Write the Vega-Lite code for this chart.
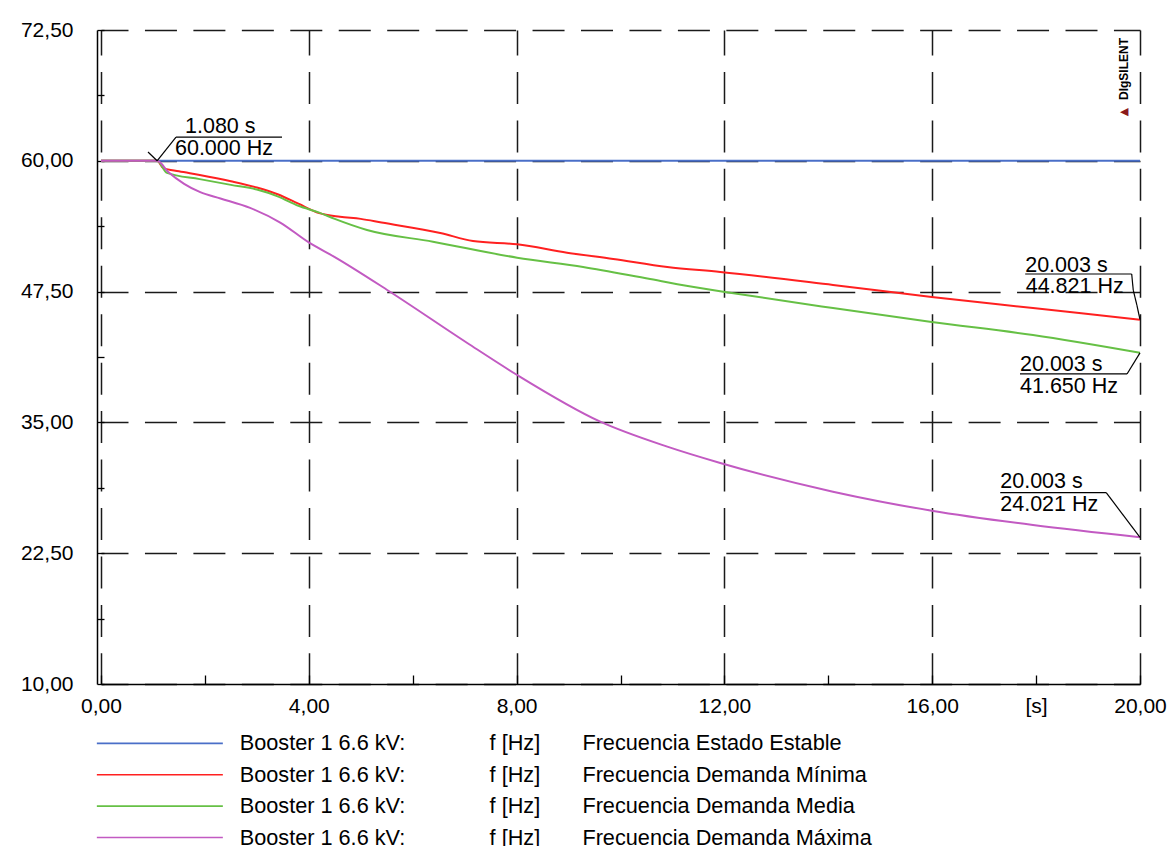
{
  "$schema": "https://vega.github.io/schema/vega-lite/v6.json",
  "width": 1039,
  "height": 654,
  "autosize": {"type": "none"},
  "padding": {"left": 101, "top": 30, "right": 27, "bottom": 162},
  "background": "white",
  "config": {"view": {"stroke": null}, "font": "Liberation Sans"},
  "datasets": {
    "series": [
      {"t": 0, "f": 60, "s": "Frecuencia Estado Estable"},
      {"t": 20, "f": 60, "s": "Frecuencia Estado Estable"},
      {"t": 0, "f": 60, "s": "Frecuencia Demanda Mínima"},
      {"t": 1.08, "f": 60, "s": "Frecuencia Demanda Mínima"},
      {"t": 1.2, "f": 59.3, "s": "Frecuencia Demanda Mínima"},
      {"t": 1.5, "f": 59.0, "s": "Frecuencia Demanda Mínima"},
      {"t": 1.9, "f": 58.65, "s": "Frecuencia Demanda Mínima"},
      {"t": 2.5, "f": 58.05, "s": "Frecuencia Demanda Mínima"},
      {"t": 3.0, "f": 57.45, "s": "Frecuencia Demanda Mínima"},
      {"t": 3.4, "f": 56.8, "s": "Frecuencia Demanda Mínima"},
      {"t": 3.8, "f": 55.9, "s": "Frecuencia Demanda Mínima"},
      {"t": 4.2, "f": 55.0, "s": "Frecuencia Demanda Mínima"},
      {"t": 4.6, "f": 54.65, "s": "Frecuencia Demanda Mínima"},
      {"t": 5.0, "f": 54.45, "s": "Frecuencia Demanda Mínima"},
      {"t": 5.4, "f": 54.1, "s": "Frecuencia Demanda Mínima"},
      {"t": 6.53, "f": 53.1, "s": "Frecuencia Demanda Mínima"},
      {"t": 7.16, "f": 52.34, "s": "Frecuencia Demanda Mínima"},
      {"t": 8.01, "f": 52.02, "s": "Frecuencia Demanda Mínima"},
      {"t": 8.97, "f": 51.22, "s": "Frecuencia Demanda Mínima"},
      {"t": 9.86, "f": 50.62, "s": "Frecuencia Demanda Mínima"},
      {"t": 10.9, "f": 49.85, "s": "Frecuencia Demanda Mínima"},
      {"t": 11.92, "f": 49.37, "s": "Frecuencia Demanda Mínima"},
      {"t": 14.09, "f": 48.13, "s": "Frecuencia Demanda Mínima"},
      {"t": 15.99, "f": 46.98, "s": "Frecuencia Demanda Mínima"},
      {"t": 17.94, "f": 45.93, "s": "Frecuencia Demanda Mínima"},
      {"t": 20.0, "f": 44.821, "s": "Frecuencia Demanda Mínima"},
      {"t": 0, "f": 60, "s": "Frecuencia Demanda Media"},
      {"t": 1.08, "f": 60, "s": "Frecuencia Demanda Media"},
      {"t": 1.27, "f": 58.85, "s": "Frecuencia Demanda Media"},
      {"t": 1.9, "f": 58.25, "s": "Frecuencia Demanda Media"},
      {"t": 2.5, "f": 57.7, "s": "Frecuencia Demanda Media"},
      {"t": 3.0, "f": 57.25, "s": "Frecuencia Demanda Media"},
      {"t": 3.4, "f": 56.6, "s": "Frecuencia Demanda Media"},
      {"t": 3.8, "f": 55.7, "s": "Frecuencia Demanda Media"},
      {"t": 4.2, "f": 55.05, "s": "Frecuencia Demanda Media"},
      {"t": 4.5, "f": 54.45, "s": "Frecuencia Demanda Media"},
      {"t": 5.12, "f": 53.39, "s": "Frecuencia Demanda Media"},
      {"t": 6.39, "f": 52.27, "s": "Frecuencia Demanda Media"},
      {"t": 8.01, "f": 50.74, "s": "Frecuencia Demanda Media"},
      {"t": 9.28, "f": 49.85, "s": "Frecuencia Demanda Media"},
      {"t": 10.57, "f": 48.7, "s": "Frecuencia Demanda Media"},
      {"t": 11.53, "f": 47.84, "s": "Frecuencia Demanda Media"},
      {"t": 12.01, "f": 47.46, "s": "Frecuencia Demanda Media"},
      {"t": 14.09, "f": 45.93, "s": "Frecuencia Demanda Media"},
      {"t": 15.99, "f": 44.6, "s": "Frecuencia Demanda Media"},
      {"t": 17.94, "f": 43.35, "s": "Frecuencia Demanda Media"},
      {"t": 20.0, "f": 41.65, "s": "Frecuencia Demanda Media"},
      {"t": 0, "f": 60, "s": "Frecuencia Demanda Máxima"},
      {"t": 1.08, "f": 60, "s": "Frecuencia Demanda Máxima"},
      {"t": 1.3, "f": 58.9, "s": "Frecuencia Demanda Máxima"},
      {"t": 1.6, "f": 57.8, "s": "Frecuencia Demanda Máxima"},
      {"t": 1.91, "f": 57.0, "s": "Frecuencia Demanda Máxima"},
      {"t": 2.3, "f": 56.4, "s": "Frecuencia Demanda Máxima"},
      {"t": 2.87, "f": 55.5, "s": "Frecuencia Demanda Máxima"},
      {"t": 3.45, "f": 54.1, "s": "Frecuencia Demanda Máxima"},
      {"t": 4.0, "f": 52.2, "s": "Frecuencia Demanda Máxima"},
      {"t": 4.5, "f": 50.8, "s": "Frecuencia Demanda Máxima"},
      {"t": 5.54, "f": 47.56, "s": "Frecuencia Demanda Máxima"},
      {"t": 7.05, "f": 42.59, "s": "Frecuencia Demanda Máxima"},
      {"t": 8.01, "f": 39.53, "s": "Frecuencia Demanda Máxima"},
      {"t": 9.61, "f": 35.07, "s": "Frecuencia Demanda Máxima"},
      {"t": 10.9, "f": 32.68, "s": "Frecuencia Demanda Máxima"},
      {"t": 11.92, "f": 31.12, "s": "Frecuencia Demanda Máxima"},
      {"t": 14.09, "f": 28.38, "s": "Frecuencia Demanda Máxima"},
      {"t": 15.99, "f": 26.56, "s": "Frecuencia Demanda Máxima"},
      {"t": 17.94, "f": 25.19, "s": "Frecuencia Demanda Máxima"},
      {"t": 20.0, "f": 24.021, "s": "Frecuencia Demanda Máxima"}
    ],
    "segments": [
      {"x": 1.08, "y": 60, "x2": 1.444, "y2": 62.27},
      {"x": 1.08, "y": 60, "x2": 0.905, "y2": 60.84},
      {"x": 1.444, "y": 62.27, "x2": 3.484, "y2": 62.27},
      {"x": 17.79, "y": 49.18, "x2": 19.84, "y2": 49.18},
      {"x": 19.84, "y": 49.18, "x2": 19.87, "y2": 47.65},
      {"x": 19.87, "y": 47.65, "x2": 19.94, "y2": 46.21},
      {"x": 19.94, "y": 46.21, "x2": 20.0, "y2": 44.821},
      {"x": 17.69, "y": 39.63, "x2": 19.75, "y2": 39.63},
      {"x": 19.75, "y": 39.63, "x2": 20.0, "y2": 41.65},
      {"x": 17.31, "y": 28.28, "x2": 19.35, "y2": 28.28},
      {"x": 19.35, "y": 28.28, "x2": 20.0, "y2": 24.021}
    ],
    "labels": [
      {"x": 1.617, "y": 62.66, "text": "1.080 s"},
      {"x": 1.424, "y": 60.55, "text": "60.000 Hz"},
      {"x": 17.79, "y": 49.37, "text": "20.003 s"},
      {"x": 17.8, "y": 47.37, "text": "44.821 Hz"},
      {"x": 17.69, "y": 39.91, "text": "20.003 s"},
      {"x": 17.69, "y": 37.81, "text": "41.650 Hz"},
      {"x": 17.31, "y": 28.73, "text": "20.003 s"},
      {"x": 17.31, "y": 26.53, "text": "24.021 Hz"}
    ]
  },
  "layer": [
    {
      "data": {"name": "series"},
      "mark": {"type": "line", "strokeWidth": 2, "interpolate": "monotone"},
      "encoding": {
        "x": {
          "field": "t", "type": "quantitative",
          "scale": {"domain": [0, 20], "nice": false, "zero": false},
          "axis": {
            "title": null,
            "values": [0, 2, 4, 6, 8, 10, 12, 14, 16, 18, 20],
            "labelExpr": "datum.value == 18 ? '[s]' : (datum.value % 4 == 0 ? replace(format(datum.value, '.2f'), '.', ',') : '')",
            "labelFontSize": 21,
            "labelColor": "#000",
            "labelPadding": 20,
            "labelOverlap": false,
            "labelFlush": false,
            "labelBound": false,
            "tickSize": -9,
            "tickColor": "#000",
            "tickWidth": 1.3,
            "domainColor": "#000",
            "domainWidth": 1.5,
            "grid": true,
            "gridColor": "#1a1a1a",
            "gridWidth": 1.5,
            "gridDash": [32, 16.45],
            "gridDashOffset": 7,
            "gridOpacity": {"condition": {"test": "datum.value % 4 != 0", "value": 0}, "value": 1}
          }
        },
        "y": {
          "field": "f", "type": "quantitative",
          "scale": {"domain": [10, 72.5], "nice": false, "zero": false},
          "axis": {
            "title": null,
            "offset": 4,
            "values": [10, 16.25, 22.5, 28.75, 35, 41.25, 47.5, 53.75, 60, 66.25, 72.5],
            "labelExpr": "((datum.value - 10) % 12.5 == 0) ? replace(format(datum.value, '.2f'), '.', ',') : ''",
            "labelFontSize": 21,
            "labelColor": "#000",
            "labelPadding": 31,
            "labelOverlap": false,
            "labelFlush": false,
            "labelBound": false,
            "tickSize": -7,
            "tickColor": "#000",
            "tickWidth": 1.3,
            "domainColor": "#000",
            "domainWidth": 1.5,
            "grid": true,
            "gridColor": "#1a1a1a",
            "gridWidth": 1.5,
            "gridDash": [32, 16.45],
            "gridDashOffset": 5,
            "gridOpacity": {"condition": {"test": "(datum.value - 10) % 12.5 != 0", "value": 0}, "value": 1}
          }
        },
        "color": {
          "field": "s", "type": "nominal",
          "scale": {
            "domain": ["Frecuencia Estado Estable", "Frecuencia Demanda Mínima", "Frecuencia Demanda Media", "Frecuencia Demanda Máxima"],
            "range": ["#4a6fc8", "#ff2020", "#66c045", "#c25ac2"]
          },
          "legend": {
            "orient": "none",
            "legendX": -10,
            "legendY": 702.5,
            "title": null,
            "padding": 0,
            "symbolType": "M -1 0 L 24.2 0",
            "symbolSize": 100,
            "symbolStrokeWidth": 1.6,
            "labelFontSize": 21.7,
            "labelColor": "#000",
            "labelOffset": 127,
            "rowPadding": 8.4,
            "labelLimit": 1000,
            "labelExpr": "'Booster 1 6.6 kV:' + '\u00a0\u00a0\u00a0\u00a0\u00a0\u00a0\u00a0\u00a0\u00a0\u00a0\u00a0\u00a0\u00a0\u00a0' + 'f [Hz]' + '\u00a0\u00a0\u00a0\u00a0\u00a0\u00a0\u00a0' + datum.label"
          }
        }
      }
    },
    {
      "data": {"name": "segments"},
      "mark": {"type": "rule", "color": "#000", "strokeWidth": 1.2},
      "encoding": {
        "x": {"field": "x", "type": "quantitative"},
        "y": {"field": "y", "type": "quantitative"},
        "x2": {"field": "x2"},
        "y2": {"field": "y2"}
      }
    },
    {
      "data": {"name": "labels"},
      "mark": {"type": "text", "align": "left", "baseline": "alphabetic", "fontSize": 21.5, "color": "#000"},
      "encoding": {
        "x": {"field": "x", "type": "quantitative"},
        "y": {"field": "y", "type": "quantitative"},
        "text": {"field": "text"}
      }
    },
    {
      "data": {"values": [{"x": 19.69, "y": 68.77, "text": "DIgSILENT"}]},
      "mark": {"type": "text", "angle": 270, "align": "center", "baseline": "middle", "fontSize": 12, "fontWeight": "bold", "color": "#000"},
      "encoding": {
        "x": {"field": "x", "type": "quantitative"},
        "y": {"field": "y", "type": "quantitative"},
        "text": {"field": "text"}
      }
    },
    {
      "data": {"values": [{"x": 19.69, "y": 64.66, "text": "◀"}]},
      "mark": {"type": "text", "align": "center", "baseline": "middle", "fontSize": 11, "color": "#8b1a1a"},
      "encoding": {
        "x": {"field": "x", "type": "quantitative"},
        "y": {"field": "y", "type": "quantitative"},
        "text": {"field": "text"}
      }
    }
  ]
}
